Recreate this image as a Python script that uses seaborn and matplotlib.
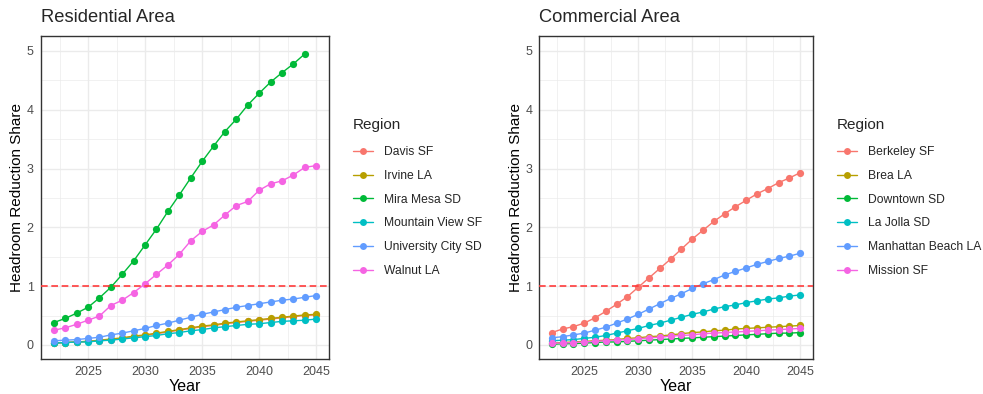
import numpy as np
import pandas as pd
import matplotlib
matplotlib.use("Agg")
import matplotlib.pyplot as plt
from matplotlib.lines import Line2D
from matplotlib.ticker import MultipleLocator
import seaborn as sns

sns.set_style("white")
plt.rcParams["font.family"] = ["Liberation Sans", "DejaVu Sans"]

years = list(range(2022, 2046))

# Residential area
res_regions = ["Davis SF", "Irvine LA", "Mira Mesa SD", "Mountain View SF",
               "University City SD", "Walnut LA"]
davis_sf = [0.03, 0.04, 0.05, 0.06, 0.07, 0.09, 0.11, 0.14, 0.16, 0.19, 0.22, 0.25,
            0.28, 0.31, 0.33, 0.36, 0.38, 0.40, 0.42, 0.44, 0.46, 0.48, 0.50, 0.51]
irvine_la = [0.03, 0.04, 0.05, 0.06, 0.08, 0.10, 0.12, 0.15, 0.17, 0.20, 0.23, 0.26,
             0.29, 0.32, 0.34, 0.37, 0.39, 0.41, 0.43, 0.45, 0.47, 0.49, 0.51, 0.52]
mira_mesa_sd = [0.38, 0.45, 0.54, 0.64, 0.80, 0.98, 1.20, 1.43, 1.70, 1.97, 2.27, 2.55,
                2.84, 3.12, 3.38, 3.63, 3.84, 4.08, 4.28, 4.47, 4.63, 4.78, 4.95]  # to 2044
mountain_view_sf = [0.03, 0.04, 0.05, 0.05, 0.07, 0.08, 0.10, 0.12, 0.14, 0.16, 0.19, 0.21,
                    0.24, 0.26, 0.29, 0.31, 0.33, 0.35, 0.36, 0.38, 0.40, 0.41, 0.42, 0.44]
university_city_sd = [0.07, 0.08, 0.09, 0.11, 0.13, 0.17, 0.20, 0.24, 0.28, 0.33, 0.37, 0.42,
                      0.47, 0.52, 0.56, 0.60, 0.64, 0.67, 0.70, 0.73, 0.76, 0.78, 0.81, 0.84]
walnut_la = [0.25, 0.29, 0.35, 0.42, 0.49, 0.67, 0.76, 0.89, 1.04, 1.20, 1.36, 1.54,
             1.77, 1.93, 2.04, 2.21, 2.37, 2.44, 2.63, 2.74, 2.79, 2.89, 3.02, 3.05]

# Commercial area
com_regions = ["Berkeley SF", "Brea LA", "Downtown SD", "La Jolla SD",
               "Manhattan Beach LA", "Mission SF"]
berkeley_sf = [0.21, 0.27, 0.31, 0.37, 0.46, 0.57, 0.69, 0.82, 0.98, 1.14, 1.30, 1.46,
               1.63, 1.80, 1.95, 2.10, 2.23, 2.35, 2.46, 2.57, 2.66, 2.76, 2.84, 2.93]
brea_la = [0.03, 0.04, 0.05, 0.06, 0.07, 0.08, 0.09, 0.11, 0.12, 0.14, 0.15, 0.17,
           0.19, 0.21, 0.22, 0.24, 0.25, 0.27, 0.28, 0.29, 0.30, 0.31, 0.32, 0.33]
downtown_sd = [0.01, 0.02, 0.02, 0.03, 0.04, 0.05, 0.05, 0.06, 0.07, 0.08, 0.09, 0.10,
               0.11, 0.12, 0.13, 0.14, 0.15, 0.16, 0.17, 0.18, 0.19, 0.20, 0.20, 0.21]
la_jolla_sd = [0.07, 0.08, 0.09, 0.11, 0.13, 0.16, 0.20, 0.24, 0.28, 0.33, 0.37, 0.42,
               0.47, 0.52, 0.56, 0.61, 0.65, 0.68, 0.72, 0.75, 0.78, 0.80, 0.83, 0.85]
manhattan_beach_la = [0.12, 0.14, 0.17, 0.20, 0.25, 0.30, 0.37, 0.44, 0.52, 0.61, 0.70, 0.79,
                      0.87, 0.96, 1.04, 1.11, 1.19, 1.25, 1.31, 1.37, 1.42, 1.47, 1.51, 1.56]
mission_sf = [0.03, 0.03, 0.04, 0.05, 0.06, 0.07, 0.08, 0.09, 0.10, 0.12, 0.13, 0.15,
              0.16, 0.17, 0.19, 0.20, 0.21, 0.22, 0.23, 0.24, 0.25, 0.26, 0.27, 0.28]

palette = ["#F8766D", "#B79F00", "#00BA38", "#00BFC4", "#619CFF", "#F564E3"]


def long_df(regions, series):
    rows = []
    for name, vals in zip(regions, series):
        for y, v in zip(years, vals):
            rows.append({"Year": y, "Share": v, "Region": name})
    return pd.DataFrame(rows)


res_df = long_df(res_regions, [davis_sf, irvine_la, mira_mesa_sd, mountain_view_sf,
                               university_city_sd, walnut_la])
com_df = long_df(com_regions, [berkeley_sf, brea_la, downtown_sd, la_jolla_sd,
                               manhattan_beach_la, mission_sf])

W, H = 983, 394
fig = plt.figure(figsize=(W / 100, H / 100), dpi=100)

panels = [
    (res_df, res_regions, "Residential Area", 40.7, 329.3, 353),
    (com_df, com_regions, "Commercial Area", 539.3, 812.7, 837),
]
top_px, bot_px = 35.7, 359.0

for df, regions, title, x0, x1, lx in panels:
    ax = fig.add_axes([x0 / W, 1 - bot_px / H, (x1 - x0) / W, (bot_px - top_px) / H])
    sns.lineplot(data=df, x="Year", y="Share", hue="Region", hue_order=regions,
                 palette=palette, marker="o", markersize=5.2, markeredgewidth=0,
                 linewidth=1.0, ax=ax, legend=False, zorder=3)
    ax.axhline(1, color="#FF3B3B", linestyle=(0, (4, 2.2)), linewidth=1.2, zorder=4)
    ax.set_xlim(2020.85, 2046.15)
    ax.set_ylim(-0.24, 5.26)
    ax.xaxis.set_major_locator(MultipleLocator(5))
    ax.xaxis.set_minor_locator(MultipleLocator(2.5))
    ax.yaxis.set_major_locator(MultipleLocator(1))
    ax.yaxis.set_minor_locator(MultipleLocator(0.5))
    ax.grid(which="major", color="#EBEBEB", linewidth=1.0)
    ax.grid(which="minor", color="#EBEBEB", linewidth=0.5)
    ax.set_axisbelow(True)
    for s in ax.spines.values():
        s.set_color("#333333")
        s.set_linewidth(1.0)
    ax.tick_params(which="major", length=3, width=0.8, color="#333333",
                   labelsize=9, labelcolor="#4D4D4D", pad=2)
    ax.tick_params(which="minor", length=0)
    ax.set_xlabel("Year", fontsize=11.5, color="black", labelpad=1)
    ax.set_ylabel("Headroom Reduction Share", fontsize=11, color="black", labelpad=2)
    fig.text(x0 / W, 1 - 18 / H, title, fontsize=13.2, ha="left", va="center")

    handles = [Line2D([0], [0], color=c, marker="o", markersize=5, markeredgewidth=0,
                      linewidth=1.0) for c in palette]
    leg = fig.legend(handles, regions, title="Region", loc="upper left",
                     bbox_to_anchor=(lx / W, 1 - 118 / H), frameon=False,
                     fontsize=8.7, title_fontsize=11, handlelength=1.65,
                     handletextpad=0.95, labelspacing=0.98, borderpad=0,
                     borderaxespad=0)
    leg._legend_box.align = "left"
    leg._legend_box.sep = 10

fig.savefig("out.png", dpi=100)
